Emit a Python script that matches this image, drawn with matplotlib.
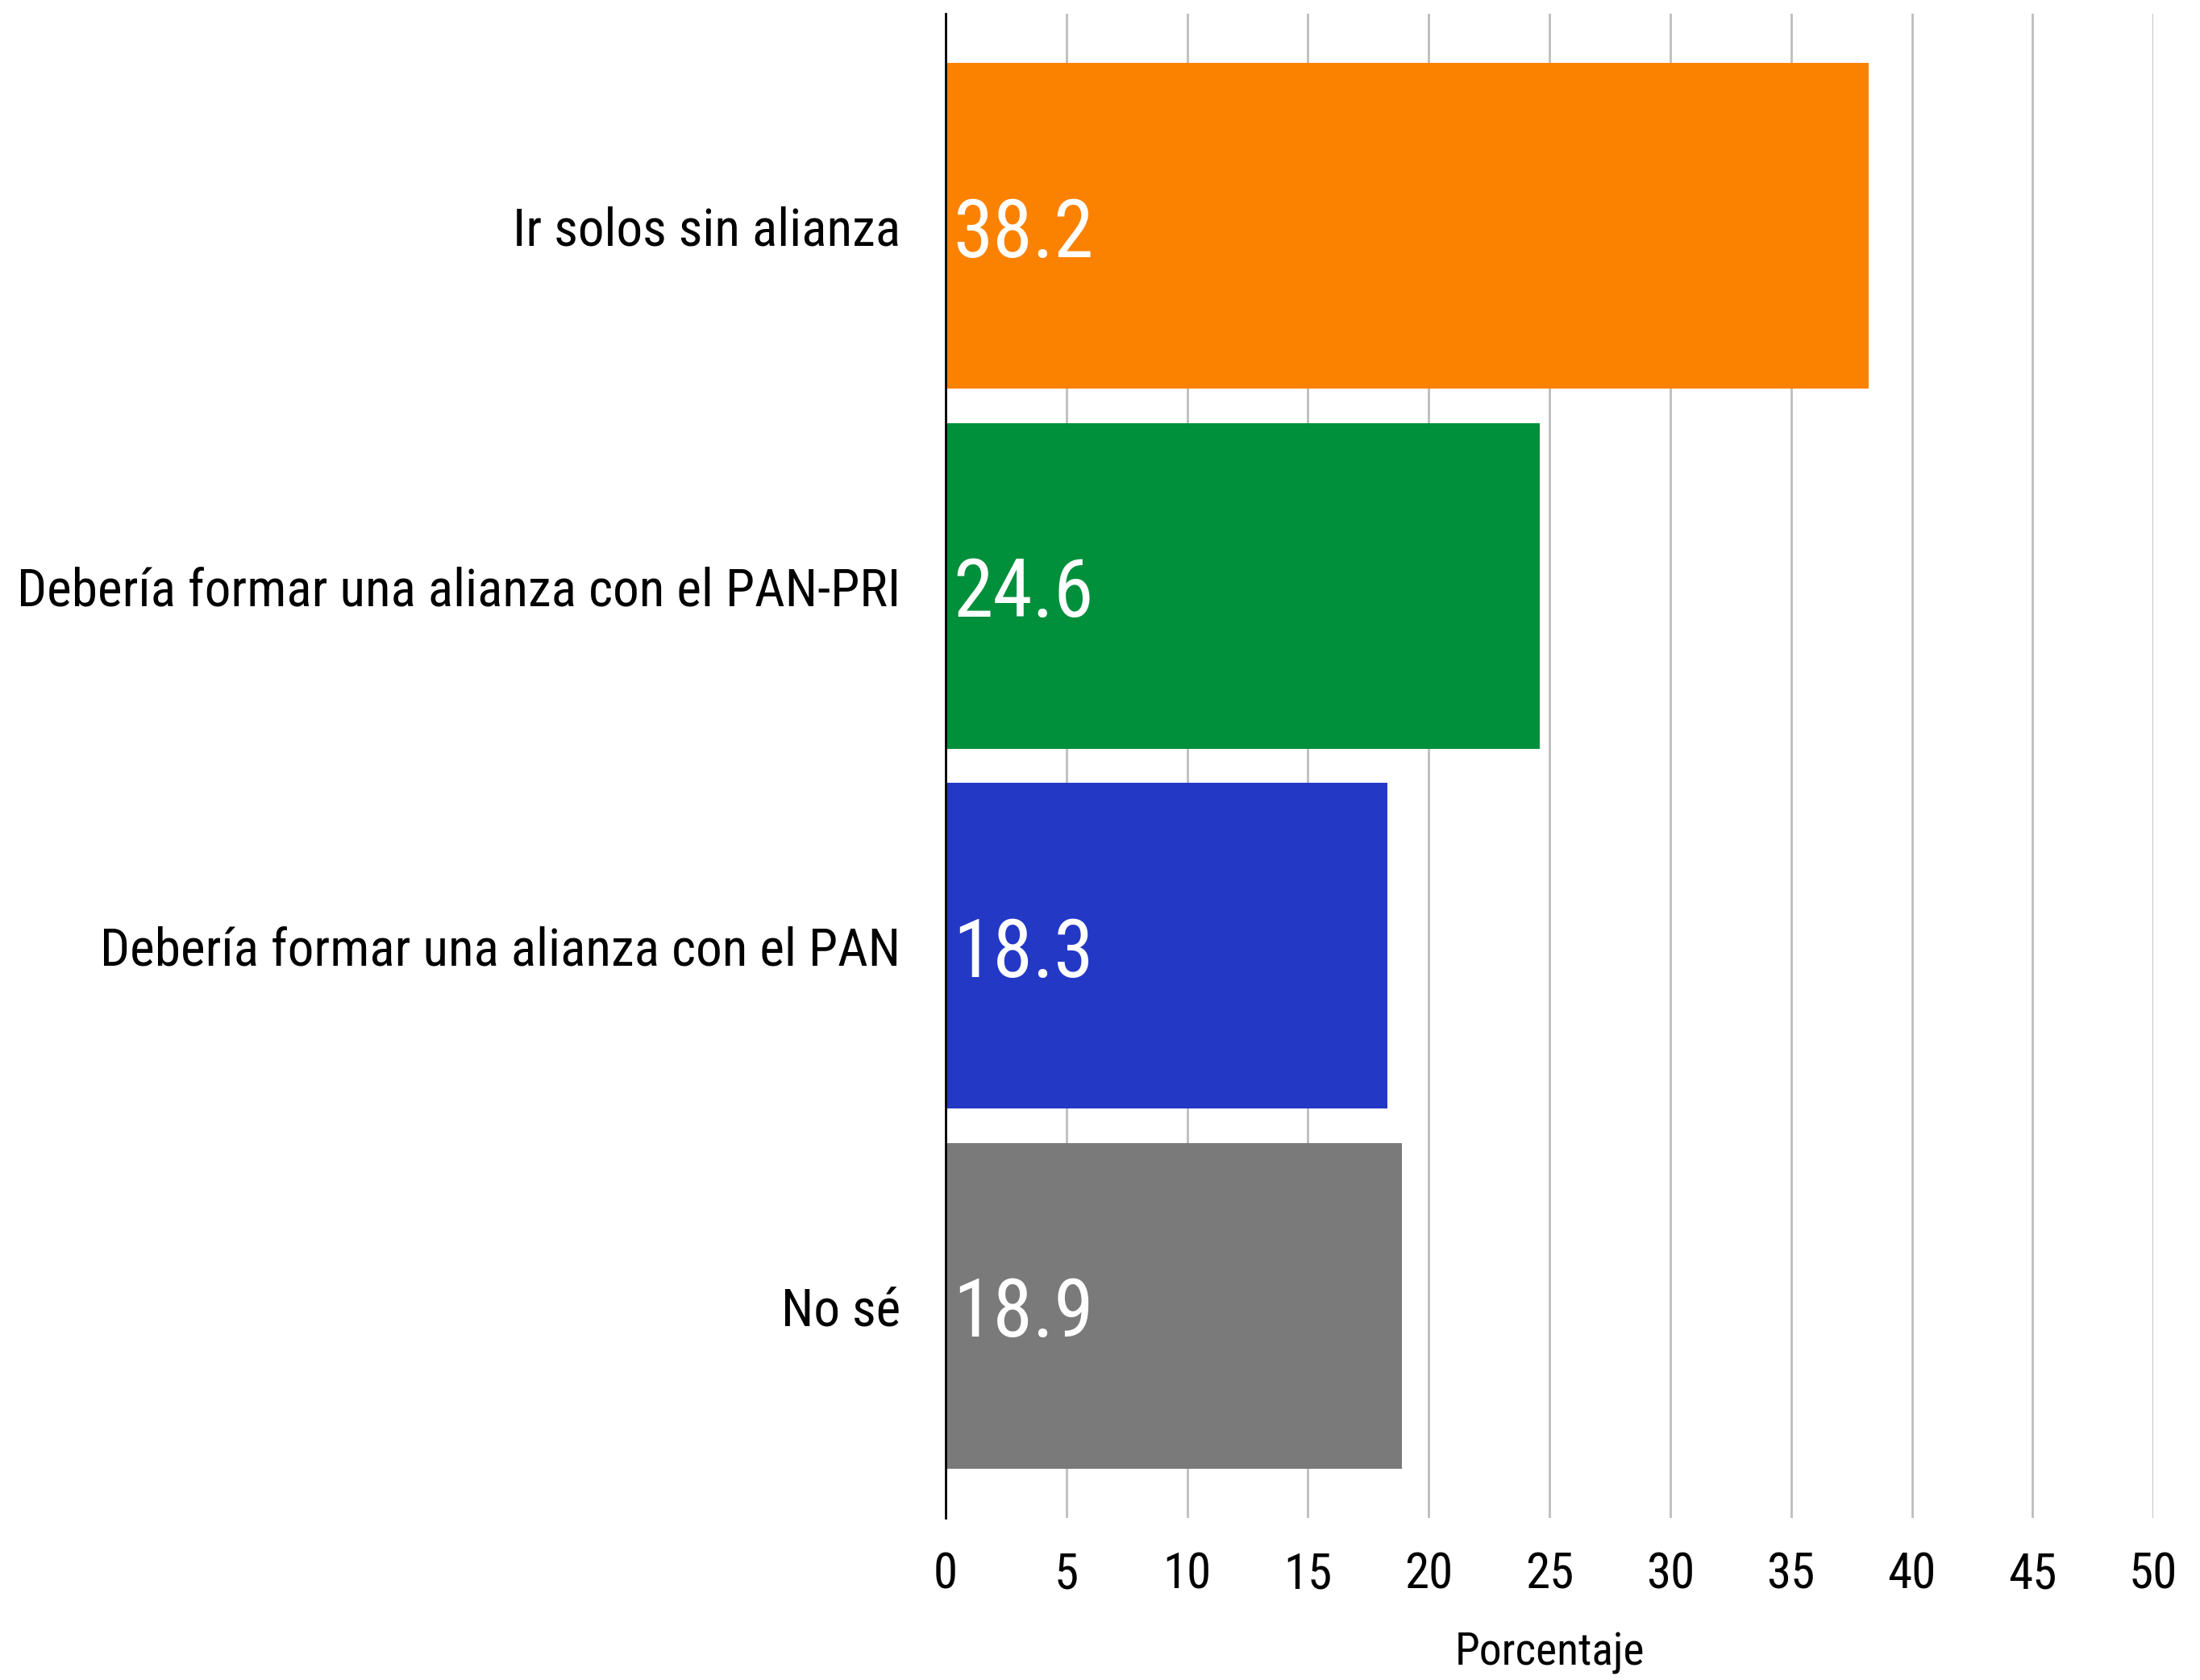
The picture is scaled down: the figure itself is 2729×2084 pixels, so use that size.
import matplotlib
matplotlib.use("Agg")
import matplotlib.pyplot as plt
from matplotlib import font_manager as fm

categories = ["Ir solos sin alianza",
              "Debería formar una alianza con el PAN-PRI",
              "Debería formar una alianza con el PAN",
              "No sé"]
values = [38.2, 24.6, 18.3, 18.9]
colors = ["#FB8200", "#008F3B", "#2438C6", "#7A7A7A"]
xticks = [0, 5, 10, 15, 20, 25, 30, 35, 40, 45, 50]

names = {f.name for f in fm.fontManager.ttflist}
family = "DejaVu Sans"
for cand in ["Roboto Condensed", "Liberation Sans Narrow", "Roboto"]:
    if cand in names:
        family = cand
        break
plt.rcParams["font.family"] = [family, "DejaVu Sans"]
W = "normal"

fig = plt.figure(figsize=(27.29, 20.84), dpi=100)
ax = fig.add_axes([0.4298, 0.0965, 0.549, 0.8953])

y = list(range(len(categories)))
ax.barh(y, values, height=0.905, color=colors, zorder=2)
ax.set_ylim(3.59, -0.59)
ax.set_xlim(0, 50)
ax.set_xticks(xticks)
ax.set_xticklabels([str(t) for t in xticks], fontsize=44, fontweight=W)
ax.set_yticks(y)
ax.set_yticklabels(categories, fontsize=47, fontweight=W)
ax.tick_params(axis="x", length=0, pad=30)
ax.tick_params(axis="y", length=0, pad=40)
ax.grid(axis="x", color="#BDBDBD", linewidth=2, zorder=0)
for s in ["top", "right", "bottom"]:
    ax.spines[s].set_visible(False)
ax.spines["left"].set_color("black")
ax.spines["left"].set_linewidth(2)
ax.spines["left"].set_zorder(3)
ax.set_xlabel("Porcentaje", fontsize=40, labelpad=30, fontweight=W)

for yi, v in zip(y, values):
    ax.text(0.3, yi + 0.025, f"{v:.1f}", color="white", fontsize=72,
            va="center", ha="left", zorder=4, fontweight=W)

fig.savefig("out.png", dpi=100, facecolor="white")
